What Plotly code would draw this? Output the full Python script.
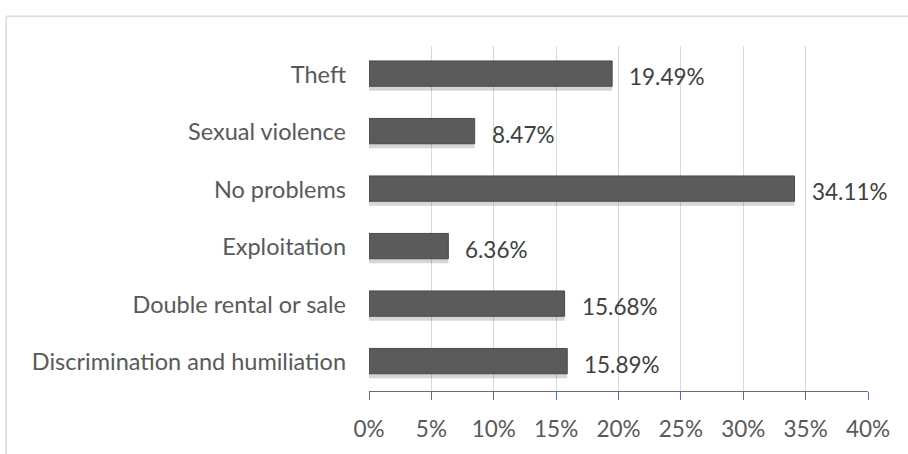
import plotly.graph_objects as go

categories = ["Theft", "Sexual violence", "No problems", "Exploitation",
              "Double rental or sale", "Discrimination and humiliation"]
values = [19.49, 8.47, 34.11, 6.36, 15.68, 15.89]
x_ticks = [0, 5, 10, 15, 20, 25, 30, 35, 40]
x_tick_labels = ["0%", "5%", "10%", "15%", "20%", "25%", "30%", "35%", "40%"]

FONT = "Lato, Carlito, 'Open Sans', sans-serif"
TEXT = "#595959"
SIZE = 23

fig = go.Figure()

# soft drop shadow behind each bar
fig.add_trace(go.Bar(
    y=categories, x=values, orientation="h",
    marker=dict(color="rgba(0,0,0,0.16)", line=dict(width=0)),
    width=0.5, offset=-0.22, hoverinfo="skip", showlegend=False,
))
fig.add_trace(go.Bar(
    y=categories, x=values, orientation="h",
    marker=dict(color="#5b5b5b", line=dict(color="#4a4a4a", width=1)),
    width=0.44, offset=-0.24, showlegend=False,
))

for cat, v in zip(categories, values):
    fig.add_annotation(x=v, y=cat, text=f"{v:.2f}%", showarrow=False,
                       xanchor="left", xshift=15, yshift=-2,
                       font=dict(family=FONT, size=SIZE - 0.5, color="#404040"))

# chart frame (top and left edges)
fig.add_shape(type="line", xref="paper", yref="paper",
              x0=-0.727, x1=1.2, y0=1.0865, y1=1.0865,
              line=dict(color="#d9d9d9", width=1.5))
fig.add_shape(type="line", xref="paper", yref="paper",
              x0=-0.727, x1=-0.727, y0=1.0865, y1=-0.3,
              line=dict(color="#d9d9d9", width=1.5))

fig.update_layout(
    width=908, height=454,
    margin=dict(l=369, r=40, t=46, b=61),
    paper_bgcolor="white", plot_bgcolor="white",
    barmode="overlay",
    font=dict(family=FONT, size=SIZE, color=TEXT),
    xaxis=dict(
        range=[0, 40], tickvals=x_ticks, ticktext=x_tick_labels,
        showgrid=True, gridcolor="#d9d9d9", gridwidth=1,
        showline=True, linecolor="#4472c4", linewidth=1,
        ticks="outside", ticklen=8, tickcolor="#4472c4",
        ticklabelstandoff=10, zeroline=False,
        tickfont=dict(family=FONT, size=SIZE - 0.5, color=TEXT),
    ),
    yaxis=dict(
        autorange="reversed", showgrid=False, showline=False,
        ticks="", ticklabelstandoff=22,
        tickfont=dict(family=FONT, size=SIZE + 0.5, color=TEXT),
    ),
)

fig.write_html("out.html")
